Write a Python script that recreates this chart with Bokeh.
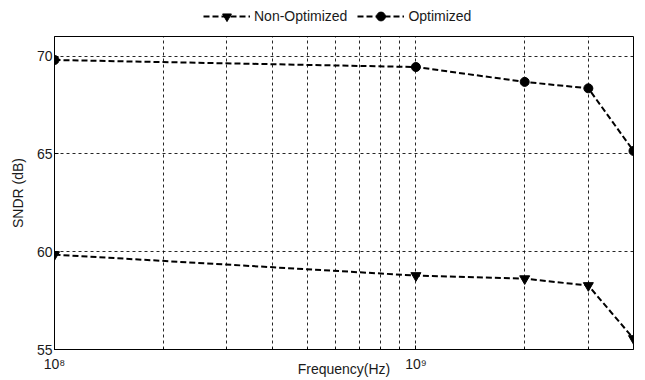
from bokeh.plotting import figure
from bokeh.layouts import column
from bokeh.models import (FixedTicker, Legend, LegendItem, Range1d,
                          CustomJSTickFormatter)
from bokeh.embed import file_html
from bokeh.resources import INLINE

# Measured SNDR versus input frequency
freq_hz = [1e8, 1e9, 2e9, 3e9, 4e9]
sndr_non_optimized = [59.85, 58.78, 58.62, 58.27, 55.56]
sndr_optimized = [69.8, 69.44, 68.68, 68.35, 65.15]
series_names = ["Non-Optimized", "Optimized"]

x_major_ticks = [1e8, 1e9]
x_minor_ticks = [2e8, 3e8, 4e8, 5e8, 6e8, 7e8, 8e8, 9e8, 2e9, 3e9]
y_ticks = [55, 60, 65, 70]

FONT = "Liberation Sans"
TEXT_COLOR = "#1a1a1a"
LEGEND_H = 36

p = figure(width=645, height=380 - LEGEND_H, x_axis_type="log",
           x_range=Range1d(1e8, 4e9), y_range=Range1d(55, 71),
           output_backend="svg", toolbar_location=None,
           min_border_left=54, min_border_right=12,
           min_border_top=0, min_border_bottom=31)
p.background_fill_color = "white"
p.border_fill_color = "white"
p.outline_line_color = "black"
p.outline_line_width = 1

# axes
p.xaxis.ticker = FixedTicker(ticks=x_major_ticks, minor_ticks=x_minor_ticks)
p.xaxis.formatter = CustomJSTickFormatter(code="""
    const sup = {"0":"\u2070","1":"\u00b9","2":"\u00b2","3":"\u00b3","4":"\u2074",
                 "5":"\u2075","6":"\u2076","7":"\u2077","8":"\u2078","9":"\u2079"};
    const e = String(Math.round(Math.log10(tick)));
    return "10" + e.split("").map(c => sup[c]).join("");
""")
p.yaxis.ticker = FixedTicker(ticks=y_ticks)
for ax in (p.xaxis, p.yaxis):
    ax.axis_line_color = "black"
    ax.major_tick_in = 4
    ax.major_tick_out = 0
    ax.minor_tick_in = 2
    ax.minor_tick_out = 0
    ax.major_tick_line_color = "black"
    ax.minor_tick_line_color = "black"
    ax.major_label_text_font = FONT
    ax.major_label_text_font_size = "14px"
    ax.major_label_text_color = TEXT_COLOR
    ax.axis_label_text_font = FONT
    ax.axis_label_text_font_size = "14px"
    ax.axis_label_text_font_style = "normal"
    ax.axis_label_text_color = TEXT_COLOR
p.yaxis.minor_tick_line_color = None
p.yaxis.major_label_standoff = 2
p.xaxis.major_label_standoff = 6
p.yaxis.axis_label = "SNDR (dB)"
p.yaxis.axis_label_standoff = 8
p.xaxis.axis_label = "Frequency(Hz)"
p.xaxis.axis_label_standoff = -14

# dashed grid, including the minor decade lines
p.xgrid.ticker = FixedTicker(ticks=x_major_ticks + x_minor_ticks)
p.ygrid.ticker = FixedTicker(ticks=y_ticks)
for g in (p.xgrid, p.ygrid):
    g.grid_line_color = "black"
    g.grid_line_alpha = 0.85
    g.grid_line_width = 1
    g.grid_line_dash = "3 3"

# series
LINE = dict(line_color="black", line_width=2, line_dash="6 3")
TRI = dict(marker="inverted_triangle", size=10, fill_color="black",
           line_color="black")
DOT = dict(marker="circle", size=9, fill_color="black", line_color="black")
p.line(freq_hz, sndr_non_optimized, **LINE)
p.scatter(freq_hz, sndr_non_optimized, **TRI)
p.line(freq_hz, sndr_optimized, **LINE)
p.scatter(freq_hz, sndr_optimized, **DOT)

# legend strip above the axes; the same series are drawn there but fall
# outside its unit ranges, so only the legend samples show
top = figure(width=645, height=LEGEND_H, x_range=Range1d(0, 1),
             y_range=Range1d(0, 1), output_backend="svg",
             toolbar_location=None, x_axis_location=None,
             y_axis_location=None, min_border=0)
top.outline_line_color = None
top.grid.visible = False
top.background_fill_color = "white"
top.border_fill_color = "white"
s1_line = top.line(freq_hz, sndr_non_optimized, **LINE)
s1_mark = top.scatter(freq_hz, sndr_non_optimized, **TRI)
s2_line = top.line(freq_hz, sndr_optimized, **LINE)
s2_mark = top.scatter(freq_hz, sndr_optimized, **DOT)
legend = Legend(items=[LegendItem(label=series_names[0], renderers=[s1_line, s1_mark]),
                       LegendItem(label=series_names[1], renderers=[s2_line, s2_mark])],
                orientation="horizontal", location=(149, 9),
                border_line_color=None, background_fill_alpha=0,
                label_text_font=FONT, label_text_font_size="14px",
                label_text_color=TEXT_COLOR, glyph_width=47, glyph_height=22,
                label_standoff=4, spacing=10, padding=0, margin=0)
top.add_layout(legend, "center")

page = column(top, p, spacing=0)
open("out.html", "w").write(file_html(page, INLINE))
